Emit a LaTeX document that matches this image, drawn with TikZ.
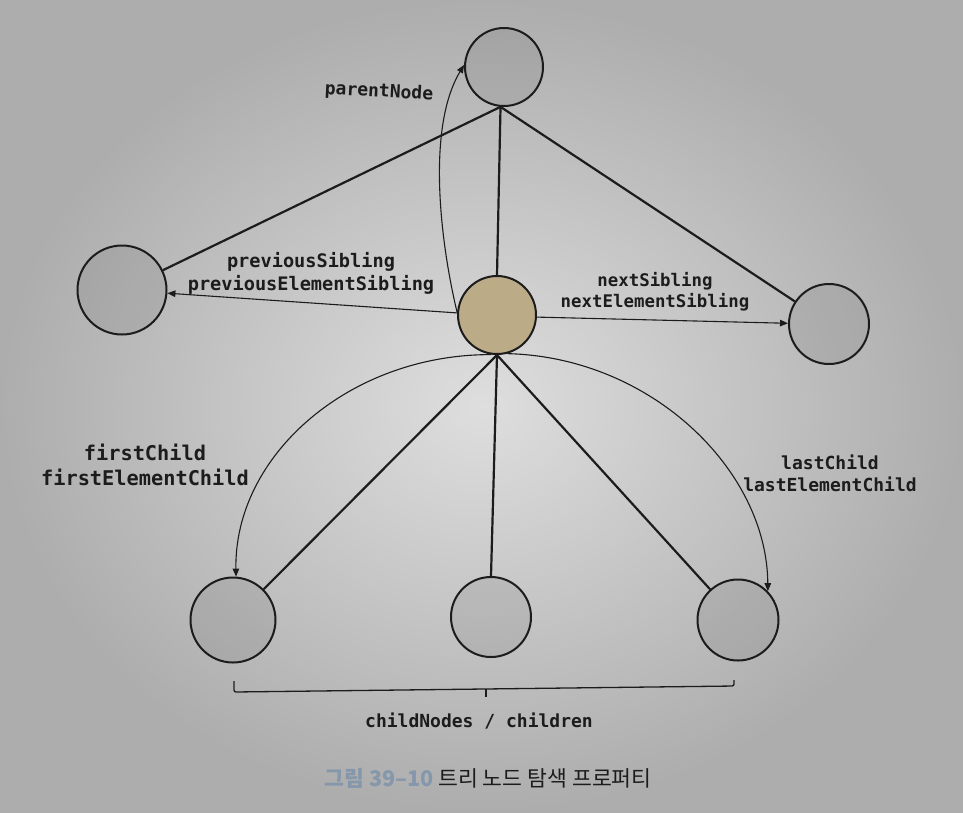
\documentclass[tikz,border=0pt]{standalone}
\usepackage{fontspec}
\setmonofont{DejaVu Sans Mono}
\newfontfamily\krfont{Noto Sans CJK KR}
\usetikzlibrary{arrows.meta}
\definecolor{ink}{HTML}{1C1C1C}
\definecolor{nodetan}{HTML}{BCAB87}
\definecolor{capblue}{HTML}{8597AB}
\definecolor{bginner}{HTML}{DEDEDE}
\definecolor{bgouter}{HTML}{ADADAD}
\begin{document}
\begin{tikzpicture}[x=1pt,y=-1pt,
  treenode/.style={circle,draw=ink,line width=2pt,fill=black,fill opacity=0.07,text opacity=1,inner sep=0pt},
  focusnode/.style={treenode,fill=nodetan,fill opacity=1},
  treeedge/.style={draw=ink,line width=2.2pt},
  navarrow/.style={draw=ink,line width=1.1pt,-{Triangle[length=8pt,width=6.5pt]}},
  lbl/.style={text=ink,align=center,inner sep=0pt},
  bracket/.style={draw=ink,line width=1.3pt,rounded corners=2pt}]
\useasboundingbox (0,0) rectangle (963,812);
\shade[inner color=bginner,outer color=bgouter] (0,0) rectangle (963,812);

% nodes
\node[treenode,minimum size=78pt] (P) at (504,67) {};
\node[treenode,minimum size=89pt] (L) at (122,290) {};
\node[focusnode,minimum size=78pt] (C) at (497,315) {};
\node[treenode,minimum size=80pt] (R) at (829,324) {};
\node[treenode,minimum size=85pt] (B1) at (233,620) {};
\node[treenode,minimum size=80pt] (B2) at (491,617) {};
\node[treenode,minimum size=81pt] (B3) at (738,620) {};

% tree edges
\draw[treeedge] (P.265) -- (L);
\draw[treeedge] (P.265) -- (C.north);
\draw[treeedge] (P.265) -- (R);
\draw[treeedge] (C.south) -- (B1);
\draw[treeedge] (C.south) -- (B2.north);
\draw[treeedge] (C.south) -- (B3);

% navigation arrows
\draw[navarrow] (C.176) .. controls (442,250) and (425,130) .. (P.177);
\draw[navarrow] (C.177) -- (L.-4);
\draw[navarrow] (C.-3) -- (R.179);
\draw[navarrow] (C.262) .. controls (350,354) and (234,455) .. (B1.86);
\draw[navarrow] (C.285) .. controls (651,357) and (767,470) .. (B3.44);

% labels
\node[lbl,font={\ttfamily\bfseries\fontsize{18}{21}\selectfont},rotate=-3] (tparent) at (379,92) {parentNode};
\node[lbl,font={\ttfamily\bfseries\fontsize{18.6}{23}\selectfont}] (tprev) at (311,273) {previousSibling\\previousElementSibling};
\node[lbl,font={\ttfamily\bfseries\fontsize{17.4}{21}\selectfont}] (tnext) at (655,292) {nextSibling\\nextElementSibling};
\node[lbl,font={\ttfamily\bfseries\fontsize{20.3}{25}\selectfont}] (tfirst) at (145,465) {firstChild\\firstElementChild};
\node[lbl,font={\ttfamily\bfseries\fontsize{18}{22}\selectfont}] (tlast) at (830,473) {lastChild\\lastElementChild};

% bracket
\coordinate (brL) at (234,681);
\coordinate (brLb) at (234,692);
\coordinate (brRb) at (734,686);
\coordinate (brR) at (734,680);
\coordinate (brM) at (486,689);
\coordinate (brMt) at (486,697);
\draw[bracket] (brL) -- (brLb) -- (brRb) -- (brR);
\draw[bracket] (brM) -- (brMt);
\node[lbl,font={\ttfamily\bfseries\fontsize{18}{21}\selectfont}] (tchildren) at (479,721) {childNodes / children};

% caption
\node[lbl,font={\krfont\fontsize{21.6}{24}\selectfont}] (caption) at (488,778) {{\color{capblue}\bfseries 그림 39–10} 트리 노드 탐색 프로퍼티};
\end{tikzpicture}
\end{document}
